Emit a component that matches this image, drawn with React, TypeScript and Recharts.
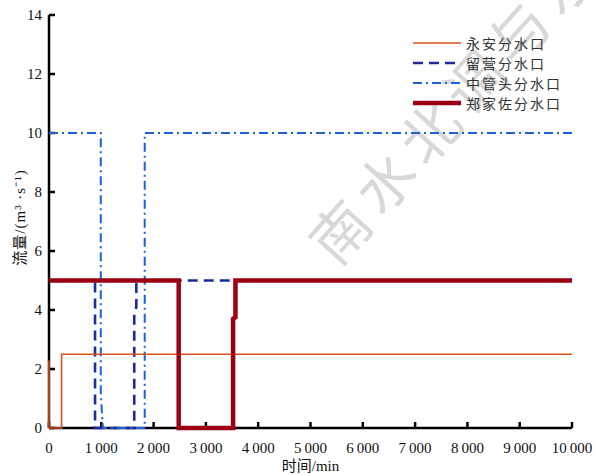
import { Line, LineChart, ReferenceLine, XAxis, YAxis } from "recharts";

// 分水口流量过程 (time in min, flow in m³/s)
const xTicks = [0, 1000, 2000, 3000, 4000, 5000, 6000, 7000, 8000, 9000, 10000];
const yTicks = [0, 2, 4, 6, 8, 10, 12, 14];

const yongan = [
  { t: 0, q: 2.3 },
  { t: 0, q: 0 },
  { t: 240, q: 0 },
  { t: 240, q: 2.5 },
  { t: 10000, q: 2.5 },
];

const liuying = [
  { t: 0, q: 5 },
  { t: 880, q: 5 },
  { t: 880, q: 0 },
  { t: 1630, q: 0 },
  { t: 1630, q: 3.9 },
  { t: 1670, q: 4.1 },
  { t: 1670, q: 5 },
  { t: 10000, q: 5 },
];

const zhongguantou = [
  { t: 0, q: 10 },
  { t: 990, q: 10 },
  { t: 990, q: 1.2 },
  { t: 1030, q: 0 },
  { t: 1830, q: 0 },
  { t: 1830, q: 10 },
  { t: 10000, q: 10 },
];

const zhengjiazuo = [
  { t: 0, q: 5 },
  { t: 2480, q: 5 },
  { t: 2480, q: 0 },
  { t: 3520, q: 0 },
  { t: 3520, q: 3.7 },
  { t: 3565, q: 3.75 },
  { t: 3565, q: 5 },
  { t: 10000, q: 5 },
];

const SERIES = [
  { name: "永安分水口", data: yongan, color: "#d9501c", width: 1.6, dash: undefined as string | undefined },
  { name: "留营分水口", data: liuying, color: "#1c2c9c", width: 2.6, dash: "10 6" },
  { name: "中管头分水口", data: zhongguantou, color: "#1a62d8", width: 2, dash: "9 4 2 4" },
  { name: "郑家佐分水口", data: zhengjiazuo, color: "#9c0012", width: 4.5, dash: undefined },
];

const DRAW_ORDER = [1, 2, 0, 3];

const fmtThousands = (v: number) =>
  String(v).replace(/\B(?=(\d{3})+(?!\d))/g, "\u2009");

const tickFont = { fill: "#111", fontSize: 15, fontFamily: "Liberation Serif, serif" };

function LegendBox() {
  return (
    <div
      style={{
        position: "absolute",
        left: 413,
        top: 33,
        fontFamily: "Noto Sans CJK SC, sans-serif",
        fontSize: 14,
        color: "#333",
      }}
    >
      {SERIES.map((s) => (
        <div key={s.name} style={{ display: "flex", alignItems: "center", height: 20 }}>
          <svg width={48} height={10} style={{ marginRight: 5 }}>
            <line
              x1={0}
              y1={5}
              x2={48}
              y2={5}
              stroke={s.color}
              strokeWidth={s.width}
              strokeDasharray={s.dash}
            />
          </svg>
          <span style={{ letterSpacing: 2, lineHeight: "20px", whiteSpace: "nowrap" }}>{s.name}</span>
        </div>
      ))}
    </div>
  );
}

function Watermark() {
  return (
    <svg
      width={594}
      height={475}
      style={{ position: "absolute", left: 0, top: 0, pointerEvents: "none" }}
    >
      <text
        x={337}
        y={268}
        transform="rotate(-48 337 268)"
        fontSize={58}
        letterSpacing={9}
        fill="#d8d8d8"
        fontFamily="Noto Sans CJK SC, sans-serif"
      >
        南水北调与水利
      </text>
    </svg>
  );
}

export default function App() {
  return (
    <div style={{ position: "absolute", left: 0, top: 0, width: 594, height: 475, background: "#fff" }}>
      <Watermark />
      <div style={{ position: "absolute", left: 0, top: 0 }}>
        <LineChart width={594} height={475} margin={{ top: 15, right: 22, left: 0, bottom: 0 }}>
          <XAxis
            type="number"
            dataKey="t"
            domain={[0, 10000]}
            ticks={xTicks}
            interval={0}
            height={47}
            axisLine={false}
            tickLine={{ stroke: "#000", strokeWidth: 2.5 }}
            tickSize={-6}
            tickMargin={20}
            tick={tickFont}
            tickFormatter={(v) => fmtThousands(Number(v))}
            label={{
              value: "时间/min",
              position: "insideBottom",
              offset: 4,
              style: { fill: "#111", fontSize: 15, fontFamily: "Liberation Serif, Noto Sans CJK SC, serif" },
            }}
          />
          <YAxis
            type="number"
            dataKey="q"
            domain={[0, 14]}
            ticks={yTicks}
            interval={0}
            width={49}
            axisLine={false}
            tickLine={{ stroke: "#000", strokeWidth: 2.5 }}
            tickSize={-6}
            tickMargin={13}
            tick={tickFont}
            label={{
              value: "流量/(m³ ·s⁻¹)",
              angle: -90,
              position: "insideLeft",
              offset: 20,
              dy: -4,
              style: {
                textAnchor: "middle",
                fill: "#111",
                fontSize: 15,
                letterSpacing: 1,
                fontFamily: "Liberation Serif, Noto Sans CJK SC, serif",
              },
            }}
          />
          <ReferenceLine y={0} stroke="#000" strokeWidth={2.5} />
          <ReferenceLine x={0} stroke="#000" strokeWidth={2.5} />
          {DRAW_ORDER.map((i) => {
            const s = SERIES[i];
            return (
              <Line
                key={s.name}
                data={s.data}
                dataKey="q"
                name={s.name}
                type="linear"
                stroke={s.color}
                strokeWidth={s.width}
                strokeDasharray={s.dash}
                dot={false}
                activeDot={false}
                isAnimationActive={false}
                zIndex={600}
              />
            );
          })}
        </LineChart>
      </div>
      <LegendBox />
    </div>
  );
}
